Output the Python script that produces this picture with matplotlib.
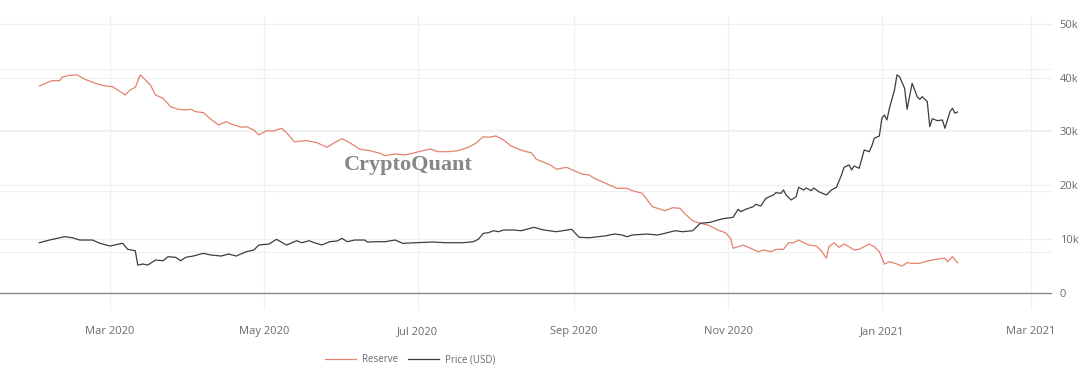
import matplotlib
matplotlib.use("Agg")
import matplotlib.pyplot as plt
import matplotlib.dates as mdates
from matplotlib.ticker import FuncFormatter, FixedLocator
from matplotlib.transforms import blended_transform_factory
import pandas as pd

# exchange reserve (left axis, hidden labels) - thousands
reserve_dates = [
    "2020-02-02", "2020-02-05", "2020-02-07", "2020-02-10", "2020-02-11", "2020-02-14",
    "2020-02-17", "2020-02-20", "2020-02-24", "2020-02-28", "2020-03-02", "2020-03-05",
    "2020-03-07", "2020-03-09", "2020-03-11", "2020-03-13", "2020-03-15", "2020-03-17",
    "2020-03-19", "2020-03-22", "2020-03-25", "2020-03-28", "2020-03-31", "2020-04-02",
    "2020-04-04", "2020-04-07", "2020-04-10", "2020-04-13", "2020-04-16", "2020-04-18",
    "2020-04-22", "2020-04-24", "2020-04-27", "2020-04-29", "2020-05-02", "2020-05-05",
    "2020-05-08", "2020-05-10", "2020-05-13", "2020-05-18", "2020-05-22", "2020-05-26",
    "2020-05-29", "2020-06-01", "2020-06-04", "2020-06-08", "2020-06-12", "2020-06-16",
    "2020-06-18", "2020-06-22", "2020-06-26", "2020-06-29", "2020-07-03", "2020-07-06",
    "2020-07-09", "2020-07-13", "2020-07-17", "2020-07-21", "2020-07-24", "2020-07-27",
    "2020-07-29", "2020-08-01", "2020-08-04", "2020-08-07", "2020-08-10", "2020-08-13",
    "2020-08-15", "2020-08-17", "2020-08-21", "2020-08-23", "2020-08-25", "2020-08-29",
    "2020-09-01", "2020-09-04", "2020-09-07", "2020-09-09", "2020-09-13", "2020-09-15",
    "2020-09-18", "2020-09-22", "2020-09-24", "2020-09-28", "2020-09-30", "2020-10-02",
    "2020-10-04", "2020-10-07", "2020-10-10", "2020-10-13", "2020-10-15", "2020-10-18",
    "2020-10-21", "2020-10-24", "2020-10-28", "2020-10-31", "2020-11-02", "2020-11-03",
    "2020-11-07", "2020-11-10", "2020-11-13", "2020-11-15", "2020-11-18", "2020-11-20",
    "2020-11-23", "2020-11-25", "2020-11-27", "2020-11-29", "2020-12-01", "2020-12-03",
    "2020-12-06", "2020-12-08", "2020-12-10", "2020-12-11", "2020-12-13", "2020-12-15",
    "2020-12-17", "2020-12-19", "2020-12-21", "2020-12-23", "2020-12-25", "2020-12-27",
    "2020-12-29", "2020-12-31", "2021-01-02", "2021-01-04", "2021-01-07", "2021-01-09",
    "2021-01-11", "2021-01-13", "2021-01-16", "2021-01-18", "2021-01-21", "2021-01-24",
    "2021-01-26", "2021-01-27", "2021-01-29", "2021-01-31",
]
reserve = [
    372.1, 377.5, 380.8, 380.8, 386.4, 389.7, 390.2, 383.1, 376.6, 372.1, 371.0, 362.8,
    357.4, 365.6, 370.0, 390.2, 382.0, 373.8, 357.4, 351.9, 338.2, 333.9, 332.8, 333.9,
    330.0, 328.3, 317.5, 308.2, 313.6, 309.8, 304.4, 305.4, 300.0, 291.8, 298.8, 298.4,
    302.8, 295.6, 280.8, 282.5, 279.2, 271.6, 279.2, 285.7, 279.2, 268.4, 266.1, 261.8,
    257.9, 260.7, 259.0, 261.8, 266.1, 268.9, 264.4, 264.4, 266.1, 271.6, 278.2, 289.0,
    288.0, 290.2, 283.6, 273.8, 268.4, 264.4, 262.8, 252.0, 245.4, 241.5, 235.6, 238.8,
    233.3, 227.9, 226.2, 220.8, 213.6, 209.8, 204.4, 204.4, 200.5, 196.2, 185.2, 174.3,
    171.6, 167.7, 172.6, 171.6, 162.3, 151.3, 147.0, 144.3, 136.1, 131.6, 122.5, 106.1,
    111.5, 106.1, 100.5, 103.3, 100.5, 104.4, 104.4, 115.2, 115.2, 119.7, 115.2, 111.5,
    109.8, 102.1, 89.7, 108.7, 115.2, 107.7, 113.1, 108.7, 103.3, 104.4, 108.7, 113.1,
    108.7, 100.5, 80.3, 84.1, 80.3, 77.0, 82.5, 81.5, 81.5, 84.1, 86.9, 89.0,
    89.7, 84.1, 92.3, 82.5,
]

# BTC price (right axis)
price_dates = [
    "2020-02-02", "2020-02-06", "2020-02-09", "2020-02-12", "2020-02-15", "2020-02-18",
    "2020-02-20", "2020-02-23", "2020-02-26", "2020-03-01", "2020-03-04", "2020-03-06",
    "2020-03-08", "2020-03-11", "2020-03-12", "2020-03-14", "2020-03-16", "2020-03-19",
    "2020-03-22", "2020-03-24", "2020-03-27", "2020-03-29", "2020-03-31", "2020-04-03",
    "2020-04-07", "2020-04-10", "2020-04-14", "2020-04-17", "2020-04-20", "2020-04-24",
    "2020-04-27", "2020-04-29", "2020-05-03", "2020-05-06", "2020-05-10", "2020-05-14",
    "2020-05-16", "2020-05-19", "2020-05-21", "2020-05-24", "2020-05-27", "2020-05-30",
    "2020-06-01", "2020-06-03", "2020-06-06", "2020-06-10", "2020-06-11", "2020-06-14",
    "2020-06-18", "2020-06-22", "2020-06-25", "2020-06-30", "2020-07-07", "2020-07-12",
    "2020-07-19", "2020-07-23", "2020-07-25", "2020-07-27", "2020-07-29", "2020-07-31",
    "2020-08-02", "2020-08-04", "2020-08-08", "2020-08-11", "2020-08-16", "2020-08-20",
    "2020-08-25", "2020-08-31", "2020-09-03", "2020-09-07", "2020-09-13", "2020-09-17",
    "2020-09-20", "2020-09-22", "2020-09-24", "2020-09-30", "2020-10-04", "2020-10-07",
    "2020-10-11", "2020-10-14", "2020-10-18", "2020-10-21", "2020-10-25", "2020-10-28",
    "2020-10-30", "2020-11-03", "2020-11-05", "2020-11-06", "2020-11-08", "2020-11-11",
    "2020-11-12", "2020-11-14", "2020-11-16", "2020-11-19", "2020-11-20", "2020-11-22",
    "2020-11-23", "2020-11-24", "2020-11-26", "2020-11-28", "2020-11-29", "2020-12-01",
    "2020-12-02", "2020-12-04", "2020-12-05", "2020-12-07", "2020-12-10", "2020-12-12",
    "2020-12-14", "2020-12-16", "2020-12-17", "2020-12-19", "2020-12-20", "2020-12-21",
    "2020-12-23", "2020-12-24", "2020-12-25", "2020-12-27", "2020-12-28", "2020-12-29",
    "2020-12-31", "2021-01-01", "2021-01-02", "2021-01-03", "2021-01-04", "2021-01-06",
    "2021-01-07", "2021-01-08", "2021-01-10", "2021-01-11", "2021-01-13", "2021-01-15",
    "2021-01-16", "2021-01-17", "2021-01-19", "2021-01-20", "2021-01-21", "2021-01-23",
    "2021-01-25", "2021-01-26", "2021-01-28", "2021-01-29", "2021-01-30", "2021-01-31",
]
price = [
    9273, 9776, 10092, 10390, 10204, 9776, 9776, 9776, 9161, 8658, 8975, 9161,
    8044, 7783, 5121, 5307, 5121, 6052, 5921, 6666, 6554, 5921, 6554, 6796,
    7299, 6983, 6796, 7169, 6796, 7597, 7914, 8845, 9031, 9906, 8845, 9645,
    9273, 9645, 9273, 8845, 9459, 9589, 10092, 9459, 9776, 9776, 9403, 9459,
    9459, 9776, 9161, 9273, 9403, 9273, 9273, 9459, 9906, 11023, 11135, 11507,
    11321, 11638, 11638, 11507, 12140, 11638, 11321, 11768, 10278, 10204, 10520, 10893,
    10707, 10390, 10707, 10893, 10707, 11023, 11507, 11321, 11507, 12885, 13071, 13500,
    13742, 14002, 15492, 15045, 15492, 15976, 16423, 16106, 17540, 18155, 18583, 18471,
    19086, 18155, 17224, 17838, 19588, 19086, 19458, 18955, 19458, 18769, 18155, 19086,
    19588, 21879, 23312, 23741, 22810, 23554, 23126, 24802, 26534, 26217, 27278, 28712,
    29140, 32436, 33051, 32120, 34298, 37706, 40499, 40182, 38022, 34112, 38953, 36458,
    35974, 36458, 35527, 30872, 32362, 31989, 32120, 30574, 33665, 34298, 33367, 33600,
]

month_ticks = ["2020-03-01", "2020-05-01", "2020-07-01", "2020-09-01",
               "2020-11-01", "2021-01-01", "2021-03-01"]
price_ticks = [0, 10000, 20000, 30000, 40000, 50000]
reserve_ticks = [100, 200, 300, 400]

reserve_color = "#e5826f"
price_color = "#3d3d3d"
grid_color = "#f0f0f0"
text_color = "#6b6b6b"

fig = plt.figure(figsize=(10.8, 3.7), dpi=100)
ax = fig.add_axes([0.0, 0.162, 0.974, 0.795])
ax2 = ax.twinx()

r_x = pd.to_datetime(reserve_dates)
p_x = pd.to_datetime(price_dates)

# reserve on the left (labels hidden), price on the right
ax.plot(r_x, reserve, color=reserve_color, lw=0.9, label="Reserve", zorder=3)
ax.set_ylim(4.9, 486.9)
ax.yaxis.set_major_locator(FixedLocator(reserve_ticks))
ax.grid(axis="y", color=grid_color, lw=0.9)
ax.tick_params(axis="y", left=False, labelleft=False)

ax2.plot(p_x, price, color=price_color, lw=0.9, label="Price (USD)")
ax2.set_ylim(-3259, 51484)
ax2.yaxis.set_major_locator(FixedLocator(price_ticks))
ax2.yaxis.set_major_formatter(FuncFormatter(lambda v, p: "0" if v == 0 else f"{int(v/1000)}k"))
ax2.tick_params(axis="y", right=False, labelsize=8, labelcolor=text_color, pad=2)

# price grid drawn on the bottom axes so it stays under the reserve line
ptrans = blended_transform_factory(ax.transAxes, ax2.transData)
for t in price_ticks:
    if t == 0:
        ax.plot([0, 1], [t, t], transform=ptrans, color="#888888", lw=1.0, zorder=1)
    else:
        ax.plot([0, 1], [t, t], transform=ptrans, color=grid_color, lw=0.9, zorder=0.6)

ax.set_xlim(pd.Timestamp("2020-01-17 09:00"), pd.Timestamp("2021-03-09 10:00"))
ax.xaxis.set_major_locator(FixedLocator(mdates.date2num(pd.to_datetime(month_ticks))))
ax.xaxis.set_major_formatter(mdates.DateFormatter("%b %Y"))
ax.grid(axis="x", color=grid_color, lw=0.9)
ax.tick_params(axis="x", bottom=False, labelsize=8, labelcolor=text_color, pad=8)
ax.set_axisbelow(True)

for a in (ax, ax2):
    for s in a.spines.values():
        s.set_visible(False)

for t in ax.get_xticklabels() + ax2.get_yticklabels():
    t.set_fontfamily("Open Sans")

fig.text(408 / 1080, 1 - 165 / 370, "CryptoQuant", ha="center", va="center",
         fontsize=16, fontweight="bold", family="Liberation Serif",
         color="#7a7a7a", alpha=0.9)

h1, l1 = ax.get_legend_handles_labels()
h2, l2 = ax2.get_legend_handles_labels()
fig.legend(h1[:1] + h2, l1[:1] + l2, loc="center", bbox_to_anchor=(410 / 1080, 1 - 360 / 370),
           ncol=2, frameon=False, labelcolor=text_color,
           handlelength=3.2, columnspacing=1.0, handletextpad=0.6,
           prop={"family": "Open Sans", "size": 7})

fig.savefig("out.png", dpi=100)
